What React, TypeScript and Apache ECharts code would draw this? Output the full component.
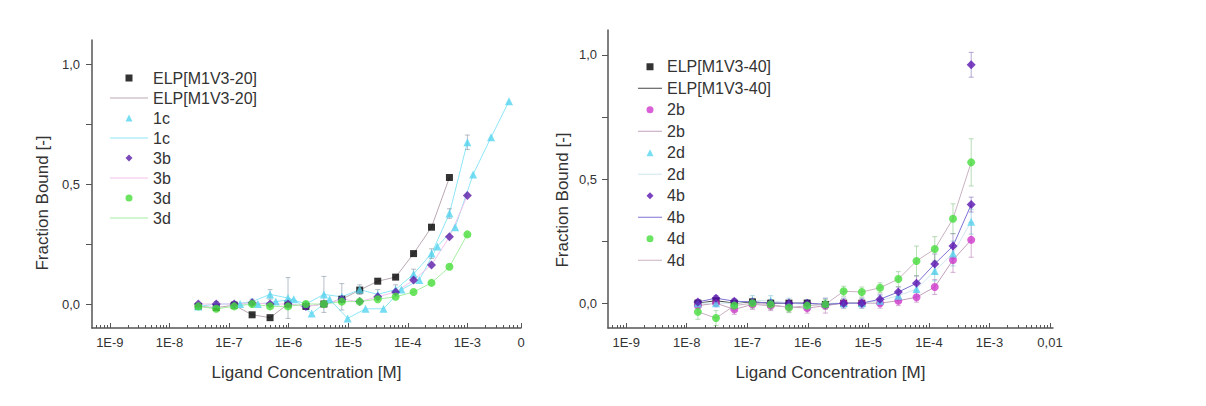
import React, { useEffect, useRef } from "react";
import * as echarts from "echarts";

// ---------- data ----------
const concLeft = [3.05e-8, 6.1e-8, 1.22e-7, 2.44e-7, 4.88e-7, 9.77e-7, 1.95e-6, 3.91e-6, 7.81e-6, 1.56e-5, 3.13e-5, 6.25e-5, 1.25e-4, 2.5e-4, 5e-4, 1e-3];
const conc1cB = [1.53e-7, 3.05e-7, 6.1e-7, 1.22e-6, 2.44e-6, 4.88e-6, 9.77e-6, 1.95e-5, 3.91e-5, 7.81e-5, 1.56e-4, 3.13e-4, 6.25e-4, 1.25e-3, 2.5e-3, 5e-3];
const concRight = [1.53e-8, 3.05e-8, 6.1e-8, 1.22e-7, 2.44e-7, 4.88e-7, 9.77e-7, 1.95e-6, 3.91e-6, 7.81e-6, 1.56e-5, 3.13e-5, 6.25e-5, 1.25e-4, 2.5e-4, 5e-4];

// left chart
const elp20 = [-0.01, -0.015, -0.005, -0.045, -0.057, 0.0, -0.01, 0.0, 0.02, 0.058, 0.095, 0.112, 0.21, 0.32, 0.527];
const c1A = [-0.01, 0.0, 0.0, 0.01, 0.04, 0.025, 0.0, 0.04, 0.03, 0.06, 0.04, 0.06, 0.125, 0.21, 0.377, 0.674];
const c1AErr = [0.01, 0.01, 0.01, 0.01, 0.02, 0.085, 0.01, 0.075, 0.055, 0.02, 0.02, 0.02, 0.02, 0.02, 0.02, 0.03];
const c1B = [0.0, 0.0, 0.01, 0.02, -0.04, 0.02, -0.06, -0.02, -0.02, 0.06, 0.1, 0.24, 0.32, 0.54, 0.695, 0.845];
const b3 = [0.0, 0.0, 0.0, 0.005, 0.0, 0.0, -0.01, 0.0, 0.02, 0.01, 0.03, 0.05, 0.1, 0.163, 0.28, 0.452];
const d3 = [-0.01, -0.02, -0.01, 0.0, -0.01, -0.01, 0.0, 0.0, 0.01, 0.01, 0.02, 0.03, 0.05, 0.088, 0.155, 0.29];

// right chart
const elp40 = [0.0, 0.01, 0.0, 0.005, 0.0, 0.0, 0.0, -0.005, 0.0, 0.0];
const b2 = [-0.01, 0.0, -0.025, -0.005, -0.01, -0.015, -0.02, -0.01, 0.0, 0.0, 0.0, 0.01, 0.024, 0.065, 0.174, 0.255];
const b2Err = [0.01, 0.01, 0.02, 0.02, 0.02, 0.02, 0.02, 0.03, 0.02, 0.02, 0.02, 0.02, 0.02, 0.03, 0.05, 0.07];
const d2 = [0.0, 0.0, 0.0, 0.01, 0.01, 0.0, -0.005, 0.0, 0.0, 0.0, 0.01, 0.03, 0.057, 0.13, 0.2, 0.328];
const d2Err = [0.01, 0.01, 0.01, 0.02, 0.02, 0.02, 0.02, 0.02, 0.02, 0.02, 0.02, 0.02, 0.03, 0.04, 0.05, 0.05];
const b4 = [0.005, 0.02, 0.008, 0.005, 0.0, 0.0, 0.0, -0.005, 0.0, 0.0, 0.016, 0.045, 0.08, 0.158, 0.23, 0.397];
const b4Err = [0.01, 0.01, 0.01, 0.01, 0.01, 0.01, 0.01, 0.01, 0.01, 0.01, 0.02, 0.02, 0.03, 0.04, 0.05, 0.03];
const b4Outlier = [[5e-4, 0.96, 0.05]];
const d4 = [-0.035, -0.06, -0.01, 0.0, -0.005, -0.018, -0.01, -0.005, 0.048, 0.045, 0.062, 0.097, 0.17, 0.218, 0.34, 0.567];
const d4Err = [0.03, 0.03, 0.02, 0.02, 0.02, 0.02, 0.02, 0.02, 0.02, 0.02, 0.02, 0.03, 0.06, 0.05, 0.06, 0.095];

// axis ticks
const xTickPosLeft = [-9, -8, -7, -6, -5, -4, -3, -2.1];
const xTickLabelsLeft = ["1E-9", "1E-8", "1E-7", "1E-6", "1E-5", "1E-4", "1E-3", "0"];
const xTickPosRight = [-9, -8, -7, -6, -5, -4, -3, -2];
const xTickLabelsRight = ["1E-9", "1E-8", "1E-7", "1E-6", "1E-5", "1E-4", "1E-3", "0,01"];
const yTickVals = [0, 0.5, 1];
const yTickLabels = ["0,0", "0,5", "1,0"];
const yAllTicks = [0, 0.25, 0.5, 0.75, 1];

const FONT = "'Liberation Sans', Arial, sans-serif";

const ICONS: Record<string, string> = {
  rect: "path://M0,0L1,0L1,1L0,1Z",
  triangle: "path://M0.5,0L1,1L0,1Z",
  diamond: "path://M0.5,0L1,0.5L0.5,1L0,0.5Z",
  circle: "path://M0,0.5A0.5,0.5,0,1,1,1,0.5A0.5,0.5,0,1,1,0,0.5Z",
};

function pts(conc: number[], vals: number[]) {
  return vals.map((v, i) => [Math.log10(conc[i]), v]);
}
function errPts(conc: number[], vals: number[], errs: number[]) {
  return vals.map((v, i) => [Math.log10(conc[i]), v, errs[i]]);
}
function minorTicks(lo: number, hi: number) {
  const out: number[] = [];
  for (let n = -10; n <= -2; n++) {
    for (let k = 2; k <= 9; k++) {
      const v = n + Math.log10(k);
      if (v > lo && v < hi) out.push(v);
    }
  }
  return out;
}

function errorSeries(name: string, data: number[][], color: string, xi: number, yi: number) {
  return {
    name,
    type: "custom",
    xAxisIndex: xi,
    yAxisIndex: yi,
    z: 2,
    silent: true,
    data,
    encode: { x: 0, y: 1 },
    renderItem: (params: any, api: any) => {
      const x = api.value(0);
      const y = api.value(1);
      const e = api.value(2);
      const top = api.coord([x, y + e]);
      const bot = api.coord([x, y - e]);
      const w = 2.5;
      const style = { stroke: color, lineWidth: 1, opacity: 0.55 };
      return {
        type: "group",
        children: [
          { type: "line", shape: { x1: top[0], y1: top[1], x2: bot[0], y2: bot[1] }, style },
          { type: "line", shape: { x1: top[0] - w, y1: top[1], x2: top[0] + w, y2: top[1] }, style },
          { type: "line", shape: { x1: bot[0] - w, y1: bot[1], x2: bot[0] + w, y2: bot[1] }, style },
        ],
      };
    },
  };
}

function scatter(name: string, data: number[][], symbol: string, size: number, color: string, xi: number, yi: number) {
  return { name, type: "scatter", xAxisIndex: xi, yAxisIndex: yi, symbol, symbolSize: size, itemStyle: { color }, z: 4, data };
}
function line(name: string, data: number[][], color: string, xi: number, yi: number) {
  return { name, type: "line", xAxisIndex: xi, yAxisIndex: yi, symbol: "none", lineStyle: { color, width: 1 }, itemStyle: { color }, z: 1, data };
}

function xAxes(gridIndex: number, min: number, max: number, pos: number[], labels: string[]) {
  return [
    {
      type: "value",
      gridIndex,
      position: "bottom",
      min,
      max,
      axisLine: { show: true, onZero: false, lineStyle: { color: "#555", width: 1.5 } },
      axisTick: { show: true, inside: true, length: 5, customValues: pos, lineStyle: { color: "#555", width: 1 } },
      axisLabel: {
        customValues: pos,
        margin: 8,
        fontSize: 13,
        color: "#333",
        fontFamily: FONT,
        formatter: (v: number) => {
          let best = 0;
          pos.forEach((p, i) => {
            if (Math.abs(p - v) < Math.abs(pos[best] - v)) best = i;
          });
          return labels[best];
        },
      },
      splitLine: { show: false },
      name: "Ligand Concentration [M]",
      nameLocation: "middle",
      nameGap: 36,
      nameTextStyle: { fontSize: 17, color: "#333", fontFamily: FONT },
    },
    {
      type: "value",
      gridIndex,
      position: "bottom",
      offset: 0,
      min,
      max,
      axisLine: { show: false, onZero: false },
      axisTick: { show: true, inside: true, length: 3, customValues: minorTicks(min, max), lineStyle: { color: "#555", width: 1 } },
      axisLabel: { show: false },
      splitLine: { show: false },
    },
  ];
}

function yAxis(gridIndex: number, margin: number) {
  return {
    type: "value",
    gridIndex,
    min: -0.1,
    max: 1.1,
    axisLine: { show: true, onZero: false, lineStyle: { color: "#555", width: 1.5 } },
    axisTick: { show: true, inside: false, length: 6, customValues: yAllTicks, lineStyle: { color: "#555", width: 1 } },
    axisLabel: {
      customValues: yTickVals,
      margin,
      fontSize: 13,
      color: "#333",
      fontFamily: FONT,
      formatter: (v: number) => {
        const i = yTickVals.findIndex((t) => Math.abs(t - v) < 1e-6);
        return i >= 0 ? yTickLabels[i] : "";
      },
    },
    splitLine: { show: false },
  };
}

type LegendEntry = { name: string; kind: "s" | "l"; symbol?: string };

function legend(left: number, top: number, itemWidth: number, lineHeight: number, entries: LegendEntry[]) {
  return {
    orient: "vertical",
    left,
    top,
    itemWidth,
    itemHeight: 7,
    itemGap: 0,
    padding: 0,
    selectedMode: false,
    symbolKeepAspect: true,
    textStyle: { fontSize: 16, lineHeight, color: "#333", fontFamily: FONT },
    formatter: (n: string) => n.split("|")[0],
    data: entries.map((e) =>
      e.kind === "s"
        ? { name: e.name + "|s", icon: ICONS[e.symbol || "circle"] }
        : { name: e.name + "|l", icon: `path://M0,0L${itemWidth},0L${itemWidth},1L0,1Z` }
    ),
  };
}

export default function App() {
  const ref = useRef<HTMLDivElement>(null);
  useEffect(() => {
    if (!ref.current) return;
    const chart = echarts.init(ref.current, undefined, { renderer: "svg" });
    const leftEntries: LegendEntry[] = [
      { name: "ELP[M1V3-20]", kind: "s", symbol: "rect" },
      { name: "ELP[M1V3-20]", kind: "l" },
      { name: "1c", kind: "s", symbol: "triangle" },
      { name: "1c", kind: "l" },
      { name: "3b", kind: "s", symbol: "diamond" },
      { name: "3b", kind: "l" },
      { name: "3d", kind: "s", symbol: "circle" },
      { name: "3d", kind: "l" },
    ];
    const rightEntries: LegendEntry[] = [
      { name: "ELP[M1V3-40]", kind: "s", symbol: "rect" },
      { name: "ELP[M1V3-40]", kind: "l" },
      { name: "2b", kind: "s", symbol: "circle" },
      { name: "2b", kind: "l" },
      { name: "2d", kind: "s", symbol: "triangle" },
      { name: "2d", kind: "l" },
      { name: "4b", kind: "s", symbol: "diamond" },
      { name: "4b", kind: "l" },
      { name: "4d", kind: "s", symbol: "circle" },
      { name: "4d", kind: "l" },
    ];
    const b4All = pts(concRight, b4).concat(b4Outlier.map((p) => [Math.log10(p[0]), p[1]]));
    const b4ErrAll = errPts(concRight, b4, b4Err).concat(b4Outlier.map((p) => [Math.log10(p[0]), p[1], p[2]]));
    const option: any = {
      animation: false,
      backgroundColor: "#ffffff",
      textStyle: { fontFamily: FONT },
      grid: [
        { left: 92, top: 40, width: 429, height: 288 },
        { left: 608, top: 30, width: 445, height: 298 },
      ],
      xAxis: [
        ...xAxes(0, -9.3, -2.1, xTickPosLeft, xTickLabelsLeft),
        ...xAxes(1, -9.3, -1.95, xTickPosRight, xTickLabelsRight),
      ],
      yAxis: [yAxis(0, 12), yAxis(1, 11)],
      legend: [legend(110, 68, 38, 20, leftEntries), legend(638, 56, 24, 21.5, rightEntries)],
      graphic: [
        {
          type: "text",
          x: 42,
          y: 203,
          rotation: Math.PI / 2,
          style: { text: "Fraction Bound [-]", fill: "#333", font: `17px ${FONT}`, align: "center", verticalAlign: "middle" },
        },
        {
          type: "text",
          x: 562,
          y: 200,
          rotation: Math.PI / 2,
          style: { text: "Fraction Bound [-]", fill: "#333", font: `17px ${FONT}`, align: "center", verticalAlign: "middle" },
        },
      ],
      series: [
        // left chart
        line("ELP[M1V3-20]|l", pts(concLeft, elp20), "#b9a9b3", 0, 0),
        line("1c|l", pts(concLeft, c1A), "#8fe6f6", 0, 0),
        line("1c|l", pts(conc1cB, c1B), "#8fe6f6", 0, 0),
        line("3b|l", pts(concLeft, b3), "#f3c2ec", 0, 0),
        line("3d|l", pts(concLeft, d3), "#a6eea0", 0, 0),
        errorSeries("err1c", errPts(concLeft, c1A, c1AErr), "#7a8a9a", 0, 0),
        scatter("ELP[M1V3-20]|s", pts(concLeft, elp20), "rect", 7, "#000000", 0, 0),
        scatter("1c|s", pts(concLeft, c1A).concat(pts(conc1cB, c1B)), "triangle", 8, "#55d4f0", 0, 0),
        scatter("3b|s", pts(concLeft, b3), "diamond", 9, "#5a1ca8", 0, 0),
        scatter("3d|s", pts(concLeft, d3), "circle", 8, "#47dd3a", 0, 0),
        // right chart
        line("ELP[M1V3-40]|l", pts(concRight, elp40), "#444444", 2, 1),
        line("2b|l", pts(concRight, b2), "#c2a2ba", 2, 1),
        line("2d|l", pts(concRight, d2), "#cfe6ee", 2, 1),
        line("4b|l", pts(concRight, b4), "#7c72d2", 2, 1),
        line("4d|l", pts(concRight, d4), "#c9b2c2", 2, 1),
        errorSeries("err2b", errPts(concRight, b2, b2Err), "#b070b0", 2, 1),
        errorSeries("err2d", errPts(concRight, d2, d2Err), "#70b8d0", 2, 1),
        errorSeries("err4b", b4ErrAll, "#7a60b0", 2, 1),
        errorSeries("err4d", errPts(concRight, d4, d4Err), "#80c080", 2, 1),
        scatter("ELP[M1V3-40]|s", pts(concRight, elp40), "rect", 7, "#000000", 2, 1),
        scatter("2b|s", pts(concRight, b2), "circle", 8, "#d038cc", 2, 1),
        scatter("2d|s", pts(concRight, d2), "triangle", 8, "#58d6ee", 2, 1),
        scatter("4b|s", b4All, "diamond", 9, "#5a14b0", 2, 1),
        scatter("4d|s", pts(concRight, d4), "circle", 8, "#46dd3c", 2, 1),
      ],
    };
    chart.setOption(option);
    return () => chart.dispose();
  }, []);
  return <div ref={ref} style={{ position: "fixed", left: 0, top: 0, width: 1206, height: 406, background: "#fff" }} />;
}
